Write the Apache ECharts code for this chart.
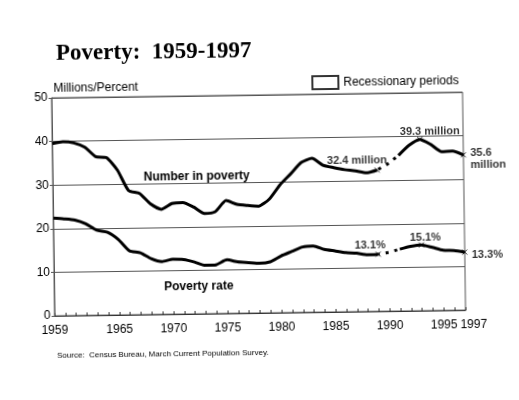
<!DOCTYPE html>
<html>
  <head>
    <meta charset="utf-8" />
    <script src="https://cdn.jsdelivr.net/npm/echarts@6/dist/echarts.min.js"></script>
    <title>Poverty: 1959-1997</title>
    <style>
      html, body { margin: 0; padding: 0; background: #fff; }
      /* the scan is tilted a little, so the chart is too */
      #chart { width: 519px; height: 400px; transform: rotate(-0.8deg); }
    </style>
  </head>
  <body>
    <div id="chart"></div>
    <script>
      var years = [1959, 1960, 1961, 1962, 1963, 1964, 1965, 1966, 1967, 1968,
        1969, 1970, 1971, 1972, 1973, 1974, 1975, 1976, 1977, 1978,
        1979, 1980, 1981, 1982, 1983, 1984, 1985, 1986, 1987, 1988,
        1989, 1990, 1991, 1992, 1993, 1994, 1995, 1996, 1997]
      // millions of people
      var numberInPoverty = [39.5, 39.9, 39.6, 38.6, 36.4, 36.1, 33.2, 28.5, 27.8, 25.4,
        24.1, 25.4, 25.6, 24.5, 23.0, 23.4, 25.9, 25.0, 24.7, 24.5,
        26.1, 29.3, 31.8, 34.4, 35.3, 33.7, 33.1, 32.6, 32.3, 31.8,
        32.4, 33.8, 35.7, 38.0, 39.3, 38.1, 36.4, 36.5, 35.6]
      // percent
      var povertyRate = [22.4, 22.2, 21.9, 21.0, 19.5, 19.0, 17.3, 14.7, 14.2, 12.8,
        12.1, 12.6, 12.5, 11.9, 11.1, 11.2, 12.3, 11.8, 11.6, 11.4,
        11.7, 13.0, 14.0, 15.0, 15.2, 14.4, 14.0, 13.6, 13.4, 13.0,
        13.1, 13.5, 14.2, 14.8, 15.1, 14.5, 13.8, 13.7, 13.3]
      var yearLabels = [1959, 1965, 1970, 1975, 1980, 1985, 1990, 1995, 1997]
      var breakStart = 1989 // dotted between these two years
      var breakEnd = 1991
      var markedYears = [1989, 1993, 1997]

      function pairs(vals, from, to) {
        var out = []
        for (var i = 0; i < years.length; i++) {
          if (years[i] >= from && years[i] <= to) out.push([years[i], vals[i]])
        }
        return out
      }
      function valueAt(vals, yr) {
        return vals[years.indexOf(yr)]
      }

      var solid = { color: '#000', width: 3, cap: 'butt', join: 'round' }

      // dashOffset picked so two dots sit inside the gap
      function lineSeries(vals, dashOffset) {
        var dotted = { color: '#000', width: 3, type: [3, 6], dashOffset: dashOffset }
        return [
          { type: 'line', data: pairs(vals, years[0], breakStart), symbol: 'none', lineStyle: solid, smooth: 0.2, silent: true },
          { type: 'line', data: pairs(vals, breakStart, breakEnd), symbol: 'none', lineStyle: dotted, silent: true },
          { type: 'line', data: pairs(vals, breakEnd, years[years.length - 1]), symbol: 'none', lineStyle: solid, smooth: 0.2, silent: true }
        ]
      }

      var annoFont = { color: '#000', fontFamily: 'Liberation Sans', fontWeight: 'bold', fontSize: 11 }

      function markers(vals, texts, places) {
        var data = []
        for (var i = 0; i < markedYears.length; i++) {
          data.push({
            value: [markedYears[i], valueAt(vals, markedYears[i])],
            label: Object.assign({ show: true, formatter: texts[i] }, annoFont, places[i])
          })
        }
        return {
          type: 'scatter',
          data: data,
          symbol: 'path://M0,0L10,10M10,0L0,10',
          symbolSize: 5,
          itemStyle: { color: 'transparent', borderColor: '#000', borderWidth: 1 },
          silent: true,
          z: 5
        }
      }

      var chart = echarts.init(document.getElementById('chart'))
      var option = {
        backgroundColor: '#fff',
        animation: false,
        title: {
          text: 'Poverty:  1959-1997',
          left: 53,
          top: 35,
          textStyle: { fontFamily: 'Liberation Serif', fontWeight: 'bold', fontSize: 23, color: '#000' }
        },
        legend: {
          data: ['Recessionary periods'],
          left: 308,
          top: 71,
          icon: 'rect',
          itemWidth: 26,
          itemHeight: 13,
          itemGap: 6,
          textStyle: { fontFamily: 'Liberation Sans', fontSize: 12, color: '#000' }
        },
        grid: {
          left: 53, right: 55, top: 95, bottom: 87,
          show: true, borderColor: '#555', borderWidth: 1
        },
        xAxis: {
          type: 'value',
          min: years[0],
          max: years[years.length - 1],
          axisLine: { show: true, lineStyle: { color: '#333' } },
          axisTick: { show: true, inside: true, length: 3, customValues: years, lineStyle: { color: '#333' } },
          splitLine: { show: false },
          axisLabel: {
            customValues: yearLabels,
            color: '#000',
            fontFamily: 'Liberation Sans',
            fontSize: 12,
            margin: 9,
            formatter: function (v) {
              return v === 1997 ? '{r|1997}' : String(v)
            },
            rich: { r: { fontFamily: 'Liberation Sans', fontSize: 12, color: '#000', padding: [0, 0, 0, 16] } }
          }
        },
        yAxis: {
          type: 'value',
          min: 0,
          max: 50,
          interval: 10,
          axisLine: { show: true, lineStyle: { color: '#555' } },
          axisTick: { show: true, length: 3, lineStyle: { color: '#555' } },
          splitLine: { show: true, lineStyle: { color: '#555', width: 1 } },
          axisLabel: { color: '#000', fontFamily: 'Liberation Sans', fontSize: 12, margin: 4 }
        },
        graphic: [
          { type: 'text', left: 55, top: 80, style: { text: 'Millions/Percent', fill: '#000', font: '12px "Liberation Sans"' } },
          { type: 'text', left: 144, top: 170, style: { text: 'Number in poverty', fill: '#000', font: 'bold 12px "Liberation Sans"' } },
          { type: 'text', left: 163, top: 280, style: { text: 'Poverty rate', fill: '#000', font: 'bold 12px "Liberation Sans"' } },
          { type: 'text', left: 55, top: 349, style: { text: 'Source:  Census Bureau, March Current Population Survey.', fill: '#000', font: '8px "Liberation Sans"' } }
        ],
        series: [].concat(
          lineSeries(numberInPoverty, 7.5),
          lineSeries(povertyRate, 1.5),
          [
            markers(numberInPoverty, ['32.4 million', '39.3 million', '35.6\nmillion'], [
              { position: 'top', offset: [-20, 4] },
              { position: 'top', offset: [10, 6] },
              { position: 'right', distance: 4, align: 'left', offset: [0, 4], lineHeight: 12 }
            ]),
            markers(povertyRate, ['13.1%', '15.1%', '13.3%'], [
              { position: 'top', offset: [-8, 5] },
              { position: 'top', offset: [4, 6] },
              { position: 'right', distance: 4, offset: [0, 3] }
            ]),
            {
              name: 'Recessionary periods',
              type: 'bar',
              data: [],
              itemStyle: { color: '#fff', borderColor: '#333', borderWidth: 1 }
            }
          ]
        )
      }
      chart.setOption(option)
    </script>
  </body>
</html>
